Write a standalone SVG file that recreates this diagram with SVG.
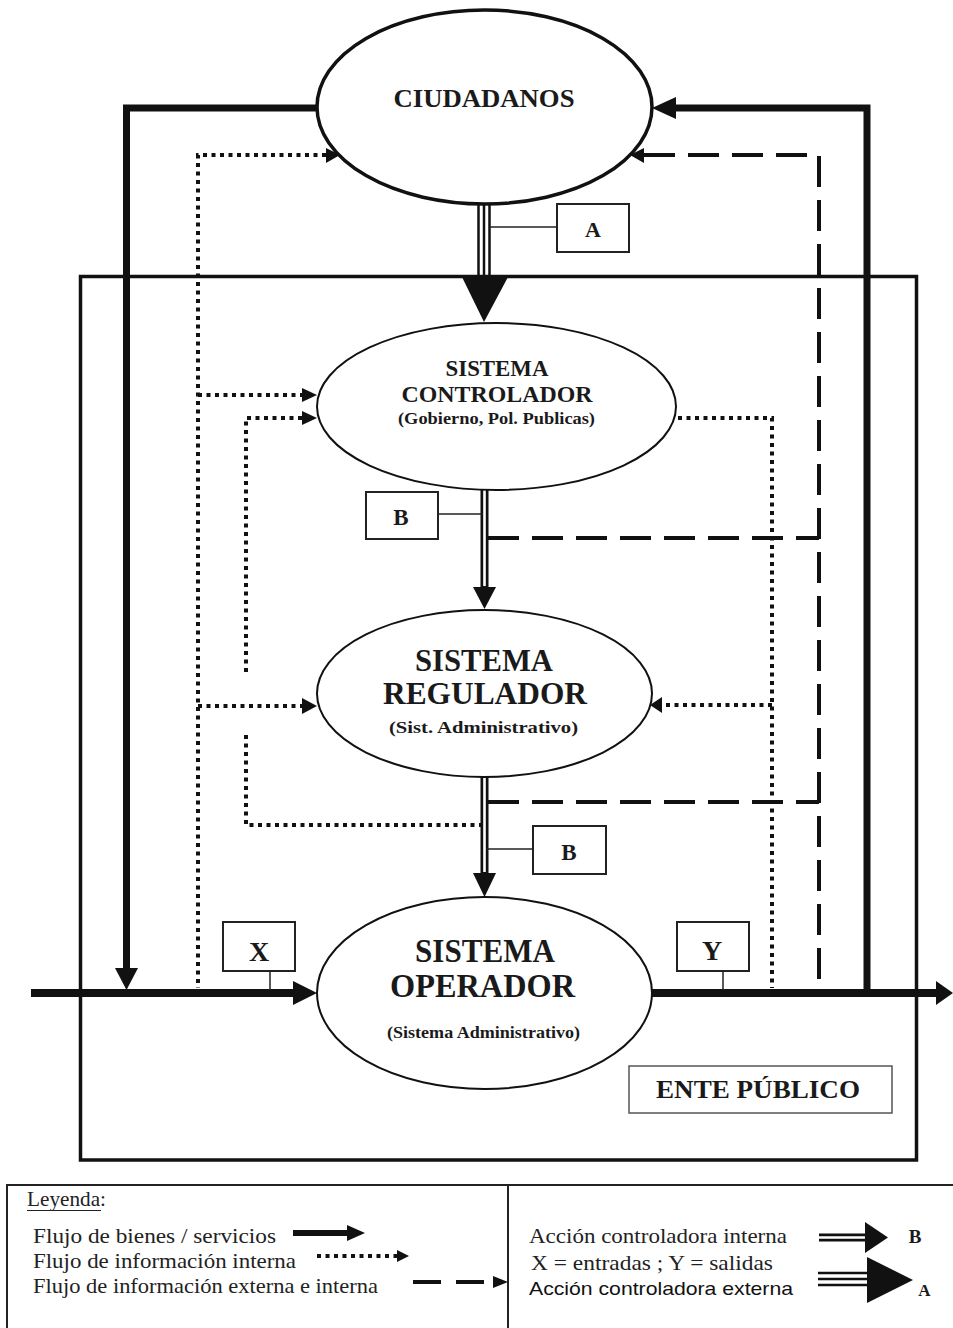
<svg xmlns="http://www.w3.org/2000/svg" width="953" height="1328" viewBox="0 0 953 1328">
<style>
.bg{fill:#fff}
.thick{stroke:#111;stroke-width:7;fill:none;stroke-linejoin:miter}
.main{stroke:#111;stroke-width:8;fill:none}
.dot{stroke:#111;stroke-width:4;stroke-dasharray:4 4.5;fill:none}
.dash{stroke:#111;stroke-width:4;stroke-dasharray:31 13;fill:none}
.ah{fill:#111;stroke:none}
.ell{fill:#fff;stroke:#111;stroke-width:2}
.box{fill:#fff;stroke:#222;stroke-width:2}
.thin{stroke:#222;stroke-width:1.5;fill:none}
.dblo{stroke:#111;stroke-width:8;fill:none}
.dbli{stroke:#fff;stroke-width:2.6;fill:none}
.tri{stroke:#111;stroke-width:2.5;fill:none}
.lbl{font-family:"Liberation Serif",serif;font-weight:bold;fill:#1a1a1a;text-anchor:middle}
.leg{font-family:"Liberation Serif",serif;fill:#222;font-size:21px}
.legs{font-family:"Liberation Sans",sans-serif;fill:#111;font-size:19px}
</style>
<rect class="bg" x="0" y="0" width="953" height="1328"/>

<g id="ente-publico-frame">
  <rect x="80.5" y="276.5" width="836" height="883.5" fill="none" stroke="#111" stroke-width="3.5"/>
</g>

<g id="connectors">
  <path class="thick" d="M317,108 H126.5 V970"/>
  <polygon class="ah" points="115,968 138,968 126.5,990"/>
  <path class="thick" d="M676,108 H867 V993"/>
  <polygon class="ah" points="676,97 676,119 652,108"/>
  <path class="main" d="M31,993 H294"/>
  <polygon class="ah" points="293,981 293,1005 317,993"/>
  <path class="main" d="M652,993 H938"/>
  <polygon class="ah" points="936,981 936,1005 953,993"/>

  <path class="dot" d="M326,155 H198 V988"/>
  <polygon class="ah" points="326,148 326,163 340,155"/>
  <path class="dot" d="M198,395 H302"/>
  <polygon class="ah" points="302,388 302,402 317,395"/>
  <path class="dot" d="M198,706 H302"/>
  <polygon class="ah" points="302,698 302,714 317,706"/>
  <path class="dot" d="M302,418 H246 V676"/>
  <polygon class="ah" points="302,411 302,425 317,418"/>
  <path class="dot" d="M246,735 V825 H481"/>
  <path class="dot" d="M678,418 H772 V988"/>
  <path class="dot" d="M772,705 H662"/>
  <polygon class="ah" points="662,697 662,713 650,705"/>

  <path class="dash" d="M644,155 H819 V988"/>
  <polygon class="ah" points="644,148 644,163 630,155"/>
  <path class="dash" d="M488,538 H819"/>
  <path class="dash" d="M488,802 H819"/>

  <path class="tri" d="M478.5,204 V278 M484,204 V278 M489.5,204 V278"/>
  <polygon class="ah" points="462,277 508,277 484,322"/>
  <path class="thin" d="M490,227 H557"/>

  <path class="dblo" d="M484.5,490 V588"/>
  <path class="dbli" d="M484.5,490 V586"/>
  <polygon class="ah" points="473,587 496,587 484.5,609"/>
  <path class="thin" d="M438,514 H483"/>
  <path class="dblo" d="M484.5,777 V874"/>
  <path class="dbli" d="M484.5,777 V872"/>
  <polygon class="ah" points="473,873 496,873 484.5,897"/>
  <path class="thin" d="M486,849 H533"/>

  <path class="thin" d="M270,971 V990"/>
  <path class="thin" d="M723,971 V990"/>
</g>

<g id="ciudadanos">
  <ellipse cx="484.5" cy="107" rx="167.5" ry="97" fill="#fff" stroke="#111" stroke-width="3.5"/>
  <text class="lbl" x="484" y="107" font-size="26" textLength="181" lengthAdjust="spacingAndGlyphs">CIUDADANOS</text>
</g>

<g id="sistema-controlador">
  <ellipse class="ell" cx="496.5" cy="406.5" rx="179.5" ry="83.5"/>
  <text class="lbl" x="497" y="376" font-size="23" textLength="103" lengthAdjust="spacingAndGlyphs">SISTEMA</text>
  <text class="lbl" x="497" y="402" font-size="23" textLength="191" lengthAdjust="spacingAndGlyphs">CONTROLADOR</text>
  <text class="lbl" x="496.5" y="424" font-size="16" textLength="197" lengthAdjust="spacingAndGlyphs">(Gobierno, Pol. Publicas)</text>
</g>

<g id="sistema-regulador">
  <ellipse class="ell" cx="484.5" cy="693.5" rx="167.5" ry="83.5"/>
  <text class="lbl" x="484" y="671" font-size="32" textLength="138" lengthAdjust="spacingAndGlyphs">SISTEMA</text>
  <text class="lbl" x="485" y="704" font-size="32" textLength="204" lengthAdjust="spacingAndGlyphs">REGULADOR</text>
  <text class="lbl" x="483.5" y="733" font-size="17" textLength="189" lengthAdjust="spacingAndGlyphs">(Sist. Administrativo)</text>
</g>

<g id="sistema-operador">
  <ellipse class="ell" cx="484.5" cy="993" rx="167.5" ry="96"/>
  <text class="lbl" x="485" y="962" font-size="33" textLength="140" lengthAdjust="spacingAndGlyphs">SISTEMA</text>
  <text class="lbl" x="482.5" y="997" font-size="33" textLength="185" lengthAdjust="spacingAndGlyphs">OPERADOR</text>
  <text class="lbl" x="483.5" y="1038" font-size="16" textLength="193" lengthAdjust="spacingAndGlyphs">(Sistema Administrativo)</text>
</g>

<g id="box-a">
  <rect class="box" x="557" y="204" width="72" height="48"/>
  <text class="lbl" x="593" y="237" font-size="22">A</text>
</g>
<g id="box-b1">
  <rect class="box" x="366" y="492" width="72" height="47"/>
  <text class="lbl" x="401" y="525" font-size="23">B</text>
</g>
<g id="box-b2">
  <rect class="box" x="533" y="826" width="73" height="48"/>
  <text class="lbl" x="569" y="860" font-size="23">B</text>
</g>
<g id="box-x">
  <rect class="box" x="223" y="922" width="72" height="49"/>
  <text class="lbl" x="259" y="961" font-size="28">X</text>
</g>
<g id="box-y">
  <rect class="box" x="677" y="922" width="72" height="49"/>
  <text class="lbl" x="712" y="960" font-size="28">Y</text>
</g>

<g id="ente-publico-label">
  <rect x="629" y="1066" width="263" height="47" fill="#fff" stroke="#555" stroke-width="1.5"/>
  <text class="lbl" x="758" y="1098" font-size="26" textLength="204" lengthAdjust="spacingAndGlyphs">ENTE PÚBLICO</text>
</g>

<g id="legend">
  <path d="M7,1328 V1185 H953" fill="none" stroke="#222" stroke-width="2"/>
  <path d="M508,1185 V1328" fill="none" stroke="#222" stroke-width="2"/>
  <text class="leg" x="27" y="1206" textLength="79" lengthAdjust="spacingAndGlyphs">Leyenda:</text>
  <path d="M27,1210.5 H101" stroke="#222" stroke-width="1.2"/>
  <text class="leg" x="33" y="1243" textLength="243" lengthAdjust="spacingAndGlyphs">Flujo de bienes / servicios</text>
  <text class="leg" x="33" y="1268" textLength="263" lengthAdjust="spacingAndGlyphs">Flujo de información interna</text>
  <text class="leg" x="33" y="1293" textLength="345" lengthAdjust="spacingAndGlyphs">Flujo de información externa e interna</text>
  <path d="M293,1233 H349" stroke="#111" stroke-width="6"/>
  <polygon class="ah" points="347,1225 347,1241 365,1233"/>
  <path class="dot" d="M317,1256 H398"/>
  <polygon class="ah" points="397,1250 397,1262 409,1256"/>
  <path d="M413,1282 H494" stroke="#111" stroke-width="4" stroke-dasharray="28 15"/>
  <polygon class="ah" points="493,1276 493,1288 508,1282"/>

  <text class="leg" x="529" y="1243" textLength="258" lengthAdjust="spacingAndGlyphs">Acción controladora interna</text>
  <text class="leg" x="531" y="1270" textLength="242" lengthAdjust="spacingAndGlyphs">X = entradas ; Y = salidas</text>
  <text class="legs" x="529" y="1295" textLength="264" lengthAdjust="spacingAndGlyphs">Acción controladora externa</text>
  <path class="dblo" d="M819,1237.5 H867"/>
  <path class="dbli" d="M819,1237.5 H866"/>
  <polygon class="ah" points="865,1222 865,1253 888,1237.5"/>
  <text class="lbl" x="915" y="1243" font-size="19">B</text>
  <path class="tri" d="M818,1273 H869 M818,1279 H869 M818,1285 H869"/>
  <polygon class="ah" points="867,1257 867,1303 913,1280"/>
  <text class="lbl" x="924.5" y="1296" font-size="17">A</text>
</g>
</svg>
